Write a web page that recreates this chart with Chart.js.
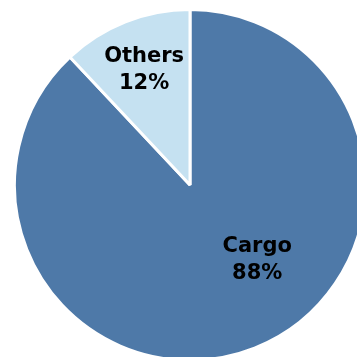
<!DOCTYPE html>
<html>
<head>
<meta charset="utf-8">
<script src="https://cdn.jsdelivr.net/npm/chart.js@4/dist/chart.umd.min.js"></script>
<style>
    html, body { margin: 0; padding: 0; background: #ffffff; }
    body { width: 357px; height: 357px; overflow: hidden; position: relative; }
    #wrap { position: absolute; left: 13px; top: 8px; width: 354px; height: 354px; }
</style>
</head>
<body>
<div id="wrap"><canvas id="shareChart" width="354" height="354"></canvas></div>
<script>
// Revenue share by segment
const segments = ['Cargo', 'Others'];
const shares = [88, 12];
const sliceColors = ['#4e79a8', '#c5e1f1'];

// where each label sits: fraction along the slice's sweep, fraction of the radius
const labelSweep = [0.435, 0.5];
const labelRadius = [0.57, 0.71];

const sliceLabels = {
    id: 'sliceLabels',
    afterDatasetsDraw(chart) {
        const ctx = chart.ctx;
        const arcs = chart.getDatasetMeta(0).data;
        ctx.save();
        ctx.fillStyle = '#000000';
        ctx.font = 'bold 21px "DejaVu Sans", sans-serif';
        ctx.textAlign = 'center';
        ctx.textBaseline = 'middle';
        arcs.forEach((arc, i) => {
            const a = arc.startAngle + (arc.endAngle - arc.startAngle) * labelSweep[i];
            const r = arc.outerRadius * labelRadius[i];
            const x = arc.x + Math.cos(a) * r;
            const y = arc.y + Math.sin(a) * r;
            ctx.fillText(segments[i], x, y - 13);
            ctx.fillText(shares[i] + '%', x, y + 14);
        });
        ctx.restore();
    }
};

new Chart(document.getElementById('shareChart'), {
    type: 'pie',
    data: {
        labels: segments,
        datasets: [{
            data: shares,
            backgroundColor: sliceColors,
            borderColor: '#ffffff',
            borderWidth: 3
        }]
    },
    options: {
        responsive: false,
        animation: false,
        layout: { padding: 0 },
        plugins: {
            legend: { display: false },
            tooltip: { enabled: false }
        }
    },
    plugins: [sliceLabels]
});
</script>
</body>
</html>
